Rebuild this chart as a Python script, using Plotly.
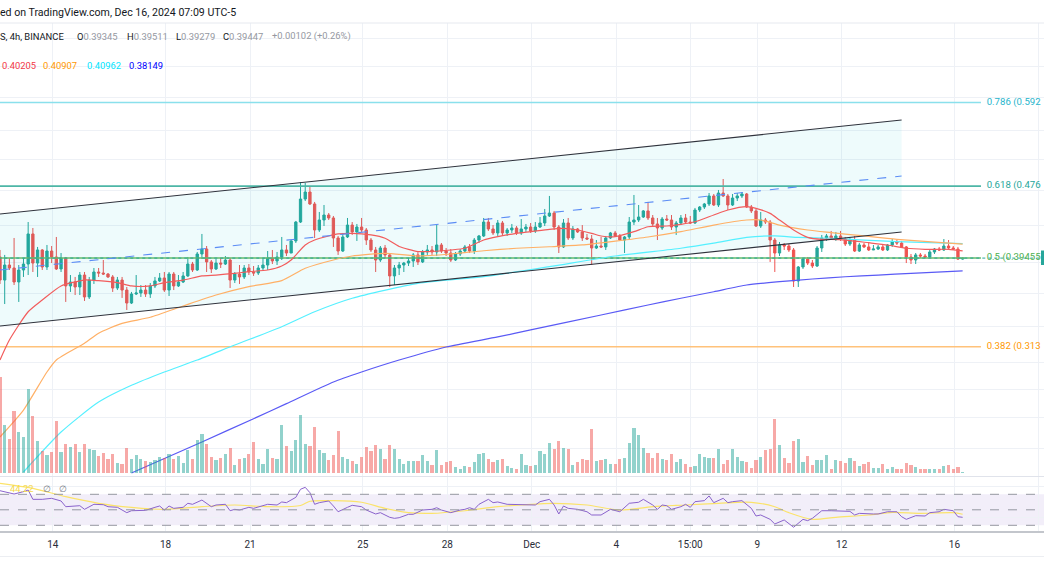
import pandas as pd
import plotly.graph_objects as go

# ---------------- data (4h bars, BINANCE, UTC-5) ----------------
bar_start = "2024-11-12 03:00"
first_open = 0.3956
closes = [
    .3725, .3874, .3844, .3706, .3824, .3884, .4201, .3894, .4029, .3854,
    .4018, .3956, .3834, .3946, .3668, .3706, .3658, .3774, .3564, .3725,
    .3804, .3794, .3784, .3755, .3648, .3725, .3629, .3508, .3592, .3601,
    .3629, .3592, .3668, .3716, .3745, .3629, .3784, .3668, .3706, .3765,
    .3884, .3824, .3987, .4039, .3905, .3834, .3894, .3884, .3925, .3725,
    .3784, .3755, .3844, .3804, .3794, .3844, .3874, .3946, .3915, .3956,
    .4029, .3997, .4125, .4334, .4602, .4687, .4543, .4245, .4357, .4414,
    .4380, .4157, .4018, .4168, .4300, .4223, .4278, .4245, .4135, .4029,
    .3925, .4050, .3977, .3765, .3844, .3874, .3894, .3915, .3977, .3905,
    .4008, .4029, .4008, .4082, .4018, .3997, .3925, .3987, .4018, .4061,
    .4018, .4135, .4179, .4334, .4256, .4212, .4323, .4212, .4245, .4267,
    .4212, .4256, .4278, .4234, .4278, .4323, .4403, .4437, .4278, .4061,
    .4323, .4157, .4256, .4223, .4157, .4146, .4050, .4071, .4061, .4157,
    .4212, .4179, .4135, .4168, .4334, .4357, .4391, .4461, .4380, .4312,
    .4267, .4368, .4357, .4278, .4323, .4380, .4334, .4323, .4472, .4507,
    .4543, .4639, .4531, .4675, .4639, .4531, .4614, .4639, .4663, .4507,
    .4461, .4289, .4357, .4334, .4135, .3997, .4082, .4071, .4029, .3716,
    .3854, .3935, .3894, .3864, .4050, .4157, .4179, .4157, .4179, .4146,
    .4092, .4135, .4018, .4082, .4061, .4029, .4039, .4061, .4029, .4082,
    .4114, .4103, .4061, .3956, .3925, .3977, .3966, .3956, .4008, .4039,
    .4029, .4071, .4050, .4039, .39345, .39447]
highs = [
    .4029, .3977, .3946, .4157, .3874, .3946, .4334, .4267, .4061, .4039,
    .4082, .4071, .4168, .3997, .3956, .3774, .3755, .3804, .3804, .3755,
    .3844, .3844, .3925, .3794, .3774, .3755, .3755, .3658, .3611, .3774,
    .3677, .3677, .3696, .3755, .3794, .3804, .3804, .3804, .3774, .3804,
    .3956, .3905, .4008, .4201, .4071, .3925, .3935, .3946, .3966, .3946,
    .3804, .3874, .3874, .3884, .3864, .3874, .3946, .4018, .4029, .4008,
    .4168, .4082, .4135, .4346, .4811, .4799, .4749, .4567, .4449, .4531,
    .4437, .4403, .4179, .4212, .4380, .4334, .4312, .4380, .4267, .4157,
    .4061, .4071, .4082, .3987, .3874, .3905, .3905, .3946, .3997, .4008,
    .4029, .4082, .4071, .4312, .4103, .4050, .4039, .4008, .4039, .4082,
    .4092, .4157, .4190, .4380, .4380, .4300, .4357, .4346, .4267, .4312,
    .4289, .4368, .4312, .4323, .4334, .4391, .4484, .4639, .4461, .4300,
    .4368, .4380, .4289, .4267, .4300, .4201, .4190, .4135, .4168, .4179,
    .4223, .4234, .4201, .4179, .4391, .4651, .4531, .4472, .4567, .4414,
    .4380, .4391, .4414, .4414, .4346, .4414, .4426, .4403, .4496, .4519,
    .4555, .4675, .4663, .4712, .4849, .4663, .4663, .4675, .4687, .4675,
    .4531, .4484, .4449, .4380, .4357, .4157, .4114, .4103, .4092, .4050,
    .3864, .3946, .3956, .3925, .4071, .4190, .4201, .4234, .4223, .4234,
    .4168, .4157, .4179, .4103, .4103, .4103, .4082, .4082, .4092, .4092,
    .4146, .4135, .4125, .4071, .3987, .3997, .3997, .3987, .4029, .4050,
    .4061, .4146, .4135, .4071, .4061, .39511]
lows = [
    .3687, .3499, .3824, .3677, .3518, .3755, .3774, .3804, .3755, .3824,
    .3824, .3894, .3824, .3804, .3518, .3611, .3582, .3582, .3527, .3545,
    .3687, .3755, .3774, .3745, .3611, .3629, .3555, .3445, .3499, .3582,
    .3564, .3564, .3555, .3648, .3706, .3611, .3573, .3629, .3658, .3696,
    .3755, .3804, .3814, .3935, .3804, .3794, .3824, .3844, .3874, .3648,
    .3696, .3687, .3735, .3774, .3765, .3774, .3824, .3824, .3884, .3874,
    .3925, .3966, .3997, .4103, .4323, .4578, .4531, .4157, .4223, .4289,
    .4357, .4061, .3977, .4008, .4157, .4190, .4125, .4223, .4082, .4008,
    .3804, .3905, .3946, .3658, .3677, .3774, .3804, .3864, .3854, .3874,
    .3894, .3977, .3977, .3966, .3997, .3966, .3905, .3915, .3966, .3997,
    .3997, .3987, .4103, .4168, .4234, .4190, .4179, .4179, .4179, .4212,
    .4190, .4190, .4223, .4212, .4212, .4267, .4289, .4391, .4245, .3997,
    .4050, .4135, .4135, .4212, .4125, .4135, .3874, .4039, .4050, .4029,
    .4146, .4168, .4125, .3997, .4135, .4300, .4334, .4380, .4357, .4289,
    .4135, .4245, .4346, .4245, .4190, .4300, .4323, .4312, .4312, .4449,
    .4484, .4519, .4519, .4507, .4627, .4472, .4519, .4578, .4614, .4496,
    .4437, .4278, .4267, .4312, .3905, .3804, .3966, .4029, .4008, .3658,
    .3658, .3834, .3874, .3844, .3854, .4008, .4125, .4135, .4125, .4125,
    .4071, .4071, .4008, .4008, .4050, .4018, .4029, .4029, .4018, .4018,
    .4061, .4082, .4050, .3894, .3884, .3884, .3946, .3946, .3946, .3987,
    .4018, .4018, .4029, .4029, .3925, .39279]
volumes = [
    96, 48, 34, 62, 41, 36, 84, 57, 32, 22,
    18, 21, 52, 21, 29, 26, 29, 21, 29, 24,
    23, 17, 20, 14, 19, 10, 9, 25, 14, 18,
    14, 12, 11, 13, 16, 15, 19, 14, 17, 10,
    23, 14, 33, 39, 29, 16, 13, 15, 19, 25,
    8, 14, 15, 19, 31, 14, 9, 24, 15, 14,
    48, 27, 22, 33, 58, 29, 27, 46, 23, 20,
    13, 18, 42, 16, 14, 12, 9, 16, 26, 22,
    28, 24, 14, 28, 24, 14, 9, 12, 12, 12,
    18, 12, 8, 23, 8, 11, 12, 6, 4, 7,
    6, 11, 19, 20, 14, 11, 13, 14, 7, 5,
    4, 19, 8, 7, 8, 22, 19, 30, 24, 32,
    25, 24, 8, 11, 14, 13, 44, 12, 13, 14,
    9, 9, 14, 15, 30, 45, 38, 25, 20, 15,
    20, 14, 13, 19, 11, 14, 9, 6, 7, 19,
    16, 15, 15, 24, 9, 13, 24, 16, 12, 11,
    5, 13, 16, 23, 24, 54, 28, 15, 10, 32,
    34, 11, 17, 8, 13, 13, 18, 4, 13, 12,
    10, 15, 12, 7, 9, 11, 5, 5, 9, 4,
    6, 4, 4, 10, 8, 6, 4, 4, 4, 4,
    4, 7, 8, 4, 6, 1]

# moving averages, read at bar indices
ma_red_k = [0, 2, 6, 9, 13, 18, 21, 25, 28, 32, 35, 39, 43, 46, 50, 53, 57, 60, 62, 65,
            67, 70, 72, 75, 79, 82, 85, 89, 92, 96, 99, 103, 106, 110, 113, 117, 120, 123,
            126, 128, 131, 135, 138, 142, 145, 148, 152, 155, 159, 161, 164, 166, 169, 172,
            175, 177, 180, 185, 189, 193, 197, 202, 205]
ma_red_v = [0.3023, 0.3185, 0.3429, 0.3536, 0.3668, 0.3725, 0.3719, 0.3700, 0.3668, 0.3668,
            0.3700, 0.3725, 0.3765, 0.3774, 0.3791, 0.3807, 0.3824, 0.3864, 0.3925, 0.4082,
            0.4135, 0.4179, 0.4201, 0.4208, 0.4190, 0.4154, 0.4066, 0.4013, 0.4013, 0.4029,
            0.4047, 0.4135, 0.4171, 0.4208, 0.4226, 0.4252, 0.4263, 0.4245, 0.4208, 0.4179,
            0.4171, 0.4226, 0.4281, 0.4289, 0.4308, 0.4337, 0.4414, 0.4472, 0.4512, 0.4492,
            0.4433, 0.4357, 0.4245, 0.4164, 0.4142, 0.4142, 0.4135, 0.4106, 0.4082, 0.4047,
            0.4036, 0.4036, 0.40205]
ma_orange_k = [0, 5, 10, 12, 18, 21, 26, 32, 39, 46, 53, 60, 65, 71, 75, 82, 89, 96, 103, 110,
               117, 124, 131, 138, 145, 152, 159, 162, 166, 172, 177, 184, 191, 205]
ma_orange_v = [0.2473, 0.2653, 0.2930, 0.3023, 0.3158, 0.3242, 0.3327, 0.3380, 0.3481, 0.3582,
               0.3662, 0.3719, 0.3841, 0.3925, 0.3966, 0.3994, 0.3966, 0.3987, 0.4021, 0.4047,
               0.4063, 0.4082, 0.4123, 0.4168, 0.4226, 0.4300, 0.4357, 0.4357, 0.4300, 0.4245,
               0.4216, 0.4179, 0.4143, 0.40907]
ma_cyan_k = [5, 13, 21, 28, 35, 42, 50, 60, 67, 75, 89, 103, 117, 131, 145, 152, 159, 165,
             170, 177, 184, 191, 205]
ma_cyan_v = [0.2257, 0.2505, 0.2709, 0.2830, 0.2930, 0.3023, 0.3144, 0.3298, 0.3429, 0.3552,
             0.3693, 0.3758, 0.3857, 0.3966, 0.4047, 0.4101, 0.4164, 0.4179, 0.4164, 0.4154,
             0.4135, 0.4117, 0.40962]
ma_blue_k = [28, 43, 54, 61, 71, 77, 85, 95, 106, 113, 128, 138, 145, 152, 159, 166, 173,
             180, 187, 194, 205]
ma_blue_v = [0.2251, 0.2441, 0.2594, 0.2698, 0.2855, 0.2930, 0.3023, 0.3128, 0.3211, 0.3270,
             0.3400, 0.3490, 0.3552, 0.3613, 0.3677, 0.3709, 0.3735, 0.3757, 0.3774, 0.3791,
             0.38149]

# RSI pane
rsi_k = [0, 3, 5, 6, 7, 9, 11, 13, 14, 16, 17, 18, 19, 20, 22, 23, 25, 26, 27, 28,
         31, 33, 34, 35, 36, 37, 39, 40, 41, 43, 45, 46, 48, 49, 50, 51, 53, 54, 56, 57,
         59, 60, 61, 63, 64, 65, 66, 67, 68, 70, 71, 72, 74, 75, 77, 78, 80, 81, 83, 84,
         85, 87, 88, 89, 90, 92, 93, 94, 96, 98, 99, 100, 101, 102, 104, 105, 106, 108, 109, 111,
         114, 115, 117, 118, 119, 120, 121, 123, 125, 126, 128, 130, 132, 134, 136, 137, 139, 140, 141, 142,
         143, 145, 146, 147, 148, 150, 151, 152, 154, 155, 156, 158, 160, 161, 162, 164, 165, 167, 169, 171,
         172, 173, 175, 177, 180, 181, 182, 183, 186, 187, 189, 191, 192, 193, 195, 197, 198, 200, 201, 203,
         204, 205]
rsi_v = [74.6, 70.4, 73.4, 75.5, 63.5, 63.5, 64.8, 61.4, 54.0, 54.9, 55.3, 50.6, 54.0, 57.1, 56.6, 54.0, 53.2, 49.7, 46.3, 48.8,
         49.3, 53.2, 54.9, 49.7, 54.9, 51.9, 53.2, 58.4, 57.1, 62.6, 54.0, 56.2, 57.1, 48.8, 50.6, 49.7, 53.2, 51.9, 54.9, 57.1,
         56.2, 60.1, 59.2, 66.1, 76.5, 79.0, 72.1, 57.1, 59.2, 61.4, 54.9, 47.5, 53.2, 55.8, 54.0, 49.7, 44.6, 46.3, 40.3, 39.0,
         39.8, 44.2, 44.2, 47.5, 49.7, 50.6, 52.7, 49.7, 46.3, 49.7, 50.6, 52.7, 50.6, 57.1, 63.5, 59.2, 60.1, 57.1, 57.1, 56.5,
         56.2, 60.5, 63.5, 56.2, 44.6, 54.9, 51.9, 50.6, 47.5, 43.3, 43.3, 50.6, 47.5, 58.4, 59.7, 63.5, 56.2, 50.6, 56.2, 55.3,
         50.6, 54.0, 57.1, 53.2, 60.5, 61.8, 67.9, 59.2, 64.8, 59.2, 60.5, 61.8, 51.9, 42.0, 43.3, 37.7, 31.7, 36.9, 27.5, 37.7,
         36.0, 39.0, 48.8, 48.8, 47.5, 48.0, 43.3, 45.4, 44.6, 44.6, 47.5, 47.5, 41.1, 37.7, 42.4, 42.0, 46.3, 47.5, 50.6, 48.8,
         41.1, 40.3]
rsi_ma_k = [0, 7, 14, 21, 28, 35, 43, 50, 57, 64, 66, 71, 77, 82, 87, 92, 99, 106, 111, 118,
            125, 132, 139, 146, 153, 160, 165, 168, 173, 178, 185, 190, 196, 203, 205]
rsi_ma_v = [84.2, 77.7, 66.9, 58.4, 53.2, 50.6, 54.0, 56.2, 54.0, 55.5, 61.0, 61.8, 59.7, 51.9, 46.3, 45.4, 48.8, 54.0, 56.2, 58.4,
            56.2, 49.7, 54.0, 56.2, 58.4, 59.7, 54.0, 46.3, 37.7, 40.3, 43.3, 46.7, 45.4, 46.3, 44.22]

# Fibonacci retracement levels
fib_prices = [0.5920, 0.4760, 0.39455, 0.31301]
fib_labels = ["0.786 (0.592", "0.618 (0.476", "0.5 (0.39455", "0.382 (0.313"]
fib_line_colors = ["#8ae0ec", "#4db6a6", "#66bb6a", "#ffc27a"]
fib_text_colors = ["#26b5cc", "#26a69a", "#4caf50", "#ff9800"]

# parallel channel drawing
channel_dates = ["2024-11-12 03:00", "2024-12-14 03:00"]
channel_upper = [0.4426, 0.5656]
channel_lower = [0.3304, 0.4222]
channel_mid = [0.3824, 0.4887]

last_price = 0.39447

tick_dates = ["2024-11-14", "2024-11-18", "2024-11-21", "2024-11-25", "2024-11-28", "2024-12-01",
              "2024-12-04", "2024-12-06 15:00", "2024-12-09", "2024-12-12", "2024-12-16", "2024-12-19"]
tick_text = ["14", "18", "21", "25", "28", "Dec", "4", "15:00", "9", "12", "16", "19"]
price_grid = [0.24, 0.26, 0.28, 0.30, 0.33, 0.36, 0.39, 0.43, 0.47, 0.51, 0.55, 0.60, 0.65, 0.70, 0.75]

# ---------------- figure ----------------
W, H = 1044, 587
dates = pd.date_range(bar_start, periods=len(closes), freq="4h")
opens = [first_open] + closes[:-1]
up = [c >= o for o, c in zip(opens, closes)]

GREEN, RED = "#26a69a", "#ef5350"
FONT = "Roboto"

def py(p):  # pixel row -> paper y
    return 1 - p / H

fig = go.Figure()

# channel fill
fig.add_trace(go.Scatter(
    x=[channel_dates[0], channel_dates[1], channel_dates[1], channel_dates[0], channel_dates[0]],
    y=[channel_upper[0], channel_upper[1], channel_lower[1], channel_lower[0], channel_upper[0]],
    fill="toself", fillcolor="rgba(0,188,212,0.065)", line=dict(width=0),
    mode="lines", hoverinfo="skip", xaxis="x", yaxis="y"))

# volume
fig.add_trace(go.Bar(
    x=dates, y=volumes, yaxis="y2", xaxis="x",
    marker=dict(color=["rgba(38,166,154,0.5)" if u else "rgba(239,83,80,0.5)" for u in up],
                line=dict(width=0)),
    width=4 * 3600 * 1000 * 0.68, hoverinfo="skip"))

# fib lines
fib_x = ["2024-11-11 00:00", "2024-12-16 22:36"]
for p, c in zip(fib_prices, fib_line_colors):
    fig.add_trace(go.Scatter(x=fib_x, y=[p, p], mode="lines", line=dict(color=c, width=1.6),
                             hoverinfo="skip", xaxis="x", yaxis="y"))

# last price dotted line
fig.add_trace(go.Scatter(x=["2024-11-11 00:00", "2024-12-20 00:00"], y=[last_price, last_price],
                         mode="lines", line=dict(color=GREEN, width=1, dash="dot"),
                         hoverinfo="skip", xaxis="x", yaxis="y"))

# candles
fig.add_trace(go.Candlestick(
    x=dates, open=opens, high=highs, low=lows, close=closes,
    increasing=dict(line=dict(color=GREEN, width=1), fillcolor=GREEN),
    decreasing=dict(line=dict(color=RED, width=1), fillcolor=RED),
    whiskerwidth=0, xaxis="x", yaxis="y", hoverinfo="skip"))

# moving averages
for ks, vs, col in [(ma_blue_k, ma_blue_v, "#5a5af5"), (ma_cyan_k, ma_cyan_v, "#55f0ff"),
                    (ma_orange_k, ma_orange_v, "#ffb066"), (ma_red_k, ma_red_v, "#f25c5c")]:
    fig.add_trace(go.Scatter(x=[dates[k] for k in ks], y=vs, mode="lines",
                             line=dict(color=col, width=1.2, shape="spline", smoothing=0.6),
                             hoverinfo="skip", xaxis="x", yaxis="y"))

# channel lines
for ys, col, dash in [(channel_upper, "#2f323c", "solid"), (channel_lower, "#2f323c", "solid"),
                      (channel_mid, "#5b8cf5", "dash")]:
    fig.add_trace(go.Scatter(x=channel_dates, y=ys, mode="lines",
                             line=dict(color=col, width=1.1, dash=dash),
                             hoverinfo="skip", xaxis="x", yaxis="y"))

# fib labels
fig.add_trace(go.Scatter(
    x=["2024-12-17 03:30"] * 4, y=fib_prices, mode="text", text=fib_labels,
    textposition="middle right", textfont=dict(family=FONT, size=9.6, color=fib_text_colors),
    cliponaxis=False, hoverinfo="skip", xaxis="x", yaxis="y"))

# RSI
fig.add_trace(go.Scatter(x=[dates[k] for k in rsi_ma_k], y=rsi_ma_v, mode="lines",
                         line=dict(color="#fbe36a", width=1.2, shape="spline", smoothing=0.8),
                         hoverinfo="skip", xaxis="x2", yaxis="y3"))
fig.add_trace(go.Scatter(x=[dates[k] for k in rsi_k], y=rsi_v, mode="lines",
                         line=dict(color="#8a63cc", width=1),
                         hoverinfo="skip", xaxis="x2", yaxis="y3"))

x_range = ["2024-11-12 03:00", "2024-12-19 04:18"]
grid = "#eef1f6"

shapes = [
    # RSI band
    dict(type="rect", xref="paper", yref="y3", x0=0, x1=1, y0=30, y1=70,
         fillcolor="rgba(126,87,194,0.10)", line=dict(width=0), layer="below"),
]
for lvl in (70, 50, 30):
    shapes.append(dict(type="line", xref="paper", yref="y3", x0=0, x1=1, y0=lvl, y1=lvl,
                       line=dict(color="#9598a1", width=1, dash="dash")))
# pane borders
shapes += [
    dict(type="line", xref="paper", yref="paper", x0=0, x1=1, y0=py(23), y1=py(23),
         line=dict(color="#e6e9ef", width=1)),
    dict(type="line", xref="paper", yref="paper", x0=0, x1=1, y0=py(476.5), y1=py(476.5),
         line=dict(color="#e0e3eb", width=1)),
    dict(type="line", xref="paper", yref="paper", x0=0, x1=1, y0=py(532), y1=py(532),
         line=dict(color="#c3c6cc", width=2)),
    dict(type="line", xref="paper", yref="paper", x0=0, x1=1, y0=py(556.5), y1=py(556.5),
         line=dict(color="#eceef2", width=1)),
    # cut-off last price tag on the right edge
    dict(type="rect", xref="paper", yref="paper", x0=1041 / W, x1=1, y0=py(265), y1=py(250.5),
         fillcolor=GREEN, line=dict(width=0)),
]

ann = []
def text(x, y, s, size, color="#131722"):
    ann.append(dict(x=x / W, y=py(y), xref="paper", yref="paper", text=s, showarrow=False,
                    xanchor="left", yanchor="middle", font=dict(family=FONT, size=size, color=color),
                    borderpad=0))

text(-1, 12, "ed on TradingView.com, Dec 16, 2024 07:09 UTC-5", 10.6)
gray = "#9598a1"
text(-1, 36.5, "S, 4h, BINANCE", 9.4)
text(75.5, 36.5, f"O<span style='color:{gray}'>0.39345</span>", 9.4)
text(125.5, 36.5, f"H<span style='color:{gray}'>0.39511</span>", 9.4)
text(174.5, 36.5, f"L<span style='color:{gray}'>0.39279</span>", 9.4)
text(221.5, 36.5, f"C<span style='color:{gray}'>0.39447</span>", 9.4)
text(270.5, 36.5, "+0.00102 (+0.26%)", 9.4, gray)
text(0.5, 65.5, "0.40205", 9.4, "#f23645")
text(42.5, 65.5, "0.40907", 9.4, "#ff9800")
text(85.5, 65.5, "0.40962", 9.4, "#00e5ff")
text(127.5, 65.5, "0.38149", 9.4, "#0000ff")
text(8.5, 488, "44.22", 9.4, "#f5d94a")
text(41.5, 488, "∅", 9.4, "#787b86")
text(58, 488, "∅", 9.4, "#787b86")

fig.update_layout(
    width=W, height=H, margin=dict(l=0, r=0, t=0, b=0),
    paper_bgcolor="white", plot_bgcolor="white", showlegend=False,
    font=dict(family=FONT), bargap=0,
    xaxis=dict(domain=[0, 1], anchor="y", type="date", range=x_range,
               tickvals=tick_dates, ticktext=tick_text, showticklabels=False,
               showgrid=True, gridcolor=grid, gridwidth=1, zeroline=False,
               rangeslider=dict(visible=False), showline=False, ticks=""),
    yaxis=dict(domain=[py(476), py(23)], type="log", range=[-0.651000, -0.137524],
               tickvals=price_grid, showticklabels=False, showgrid=True, gridcolor=grid,
               zeroline=False, showline=False, ticks=""),
    yaxis2=dict(overlaying="y", range=[-3, 450], showticklabels=False, showgrid=False,
                zeroline=False, showline=False),
    xaxis2=dict(domain=[0, 1], anchor="y3", matches="x", type="date", range=x_range,
                tickvals=tick_dates, ticktext=tick_text, showticklabels=True,
                tickfont=dict(family=FONT, size=10, color="#2a2e39"),
                showgrid=True, gridcolor=grid, zeroline=False, showline=False,
                ticks="", ticklabelstandoff=6, rangeslider=dict(visible=False)),
    yaxis3=dict(domain=[py(531), py(477)], range=[22.65, 92.32], tickvals=[40, 80],
                showticklabels=False, showgrid=True, gridcolor=grid, zeroline=False,
                showline=False, ticks=""),
    shapes=shapes, annotations=ann,
)

fig.write_html("out.html", config={"displayModeBar": False},
               post_script="document.body.style.margin='0px';document.body.style.overflow='hidden';")
